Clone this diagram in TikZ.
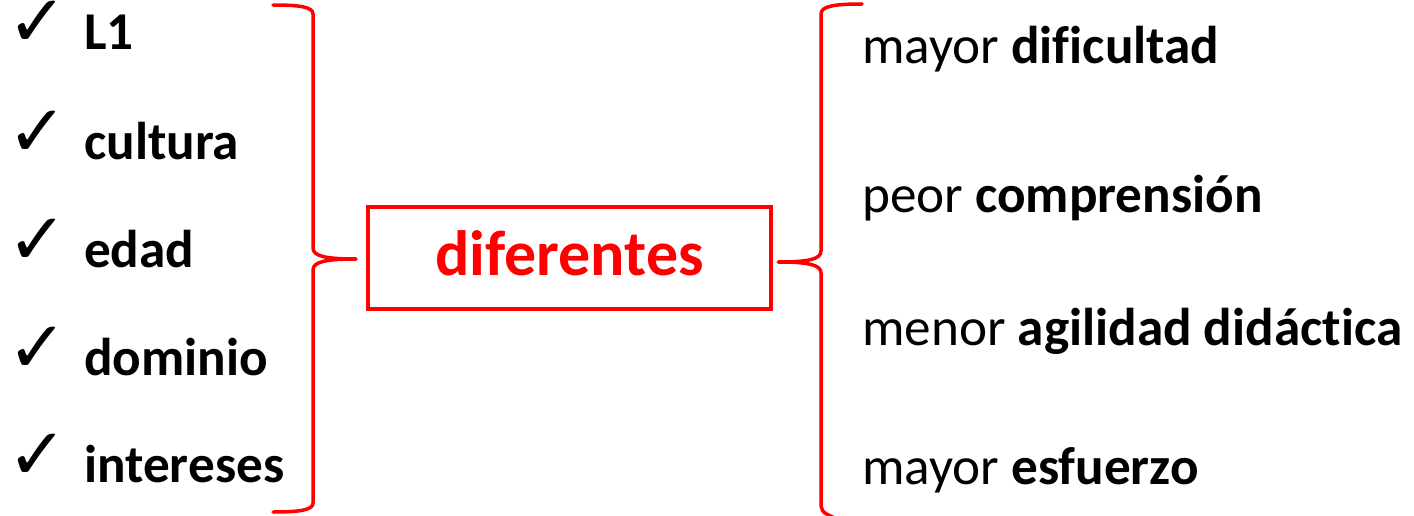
\documentclass[tikz,border=0pt]{standalone}
\usepackage{fontspec}
\setmainfont{Carlito}[Ligatures={TeX,NoCommon,NoContextual}]
\newfontfamily\symfont{DejaVu Sans}
\definecolor{bred}{RGB}{255,0,0}
\tikzset{
  item/.style={anchor=base west, inner sep=0pt, font=\fontsize{53.2}{53.2}\selectfont},
  chk/.style={anchor=base west, inner sep=0pt, text height=42pt, text depth=0pt, font=\symfont\fontsize{72}{72}\selectfont},
  ritem/.style={anchor=base west, inner sep=0pt, font=\fontsize{53.2}{53.2}\selectfont},
  centerbox/.style={draw=bred, line width=3.5pt, text=bred, minimum width=403pt, minimum height=102pt, inner sep=0pt, text height=34pt, text depth=0pt, font=\bfseries\fontsize{64}{64}\selectfont},
  bracepath/.style={draw=bred, line width=3.5pt, line cap=round, line join=round}
}
\begin{document}
\begin{tikzpicture}[x=1pt,y=-1pt]
\useasboundingbox (0,0) rectangle (1414,516);
% left list
\foreach \n/\t/\yy in {a/L1/50, b/cultura/160, c/edad/267, d/dominio/375, e/intereses/482}{
  \node[chk] (k\n) at (7,\yy-3) {✓};
  \node[item] (l\n) at (84,\yy) {\textbf{\t}};
}
% center box
\node[centerbox] (box) at (569.5,258) {diferentes};
% right list
\node[ritem] (r1) at (862,64) {mayor \textbf{dificultad}};
\node[ritem] (r2) at (862,212) {peor \textbf{comprensión}};
\node[ritem] (r3) at (862,345) {menor \textbf{agilidad didáctica}};
\node[ritem] (r4) at (862,484) {mayor \textbf{esfuerzo}};
% left brace
\coordinate (lt) at (356,259);
\path[bracepath] (273,5) .. controls (300,5) and (313,7) .. (313,14)
  -- (313,248) .. controls (313,256) and (325,259) .. (lt)
  .. controls (325,259) and (313,262) .. (313,270)
  -- (313,503) .. controls (313,510) and (300,512) .. (273,512);
% right brace
\coordinate (rt) at (778,262);
\path[bracepath] (862,4) .. controls (835,4) and (821,6) .. (821,14)
  -- (821,251) .. controls (821,259) and (809,262) .. (rt)
  .. controls (809,262) and (821,265) .. (821,273)
  -- (821,506) .. controls (821,513) and (830,516) .. (840,520);
\end{tikzpicture}
\end{document}
